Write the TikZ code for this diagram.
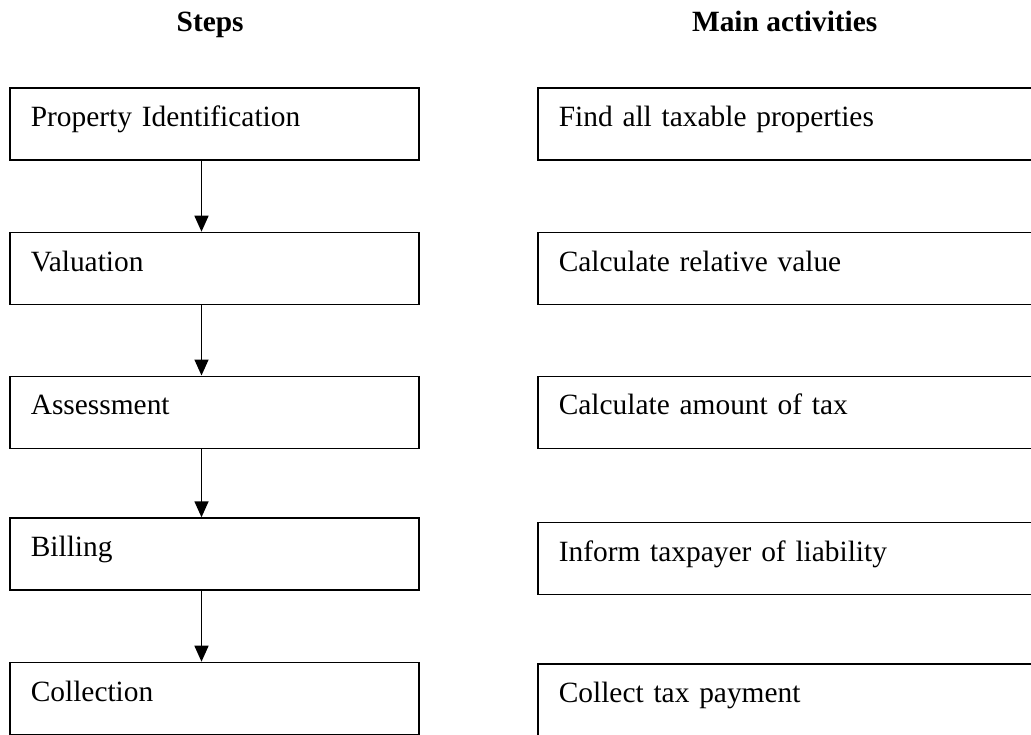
\documentclass[tikz,border=0pt]{standalone}
\usepackage{fontspec}
\setmainfont{Liberation Serif}
\usetikzlibrary{arrows.meta}

\begin{document}
\begin{tikzpicture}[x=1pt, y=-1pt,
  every node/.style={font=\fontsize{29.4}{35}\selectfont},
  stepbox/.style={draw, line width=1.6pt, anchor=north west, align=left,
    inner xsep=21pt, inner ysep=0pt, text height=38.5pt, text depth=33.5pt,
    text width=367pt},
  actbox/.style={stepbox, text width=455pt},
  heading/.style={anchor=base, inner sep=0pt, font=\fontsize{29.4}{35}\selectfont\bfseries},
  flow/.style={line width=1.5pt, -{Triangle[length=16pt, width=14pt]}}]

\useasboundingbox (0,0) rectangle (1031,734);

% column headings
\node[heading] (h1) at (210.2,31.7) {Steps};
\node[heading] (h2) at (784.7,31.7) {Main activities};

% steps
\node[stepbox] (s1) at (9,87.3)  {Property Identification};
\node[stepbox] (s2) at (9,231.7) {Valuation};
\node[stepbox] (s3) at (9,375.5) {Assessment};
\node[stepbox] (s4) at (9,517.3) {Billing};
\node[stepbox] (s5) at (9,661.7) {Collection};

% main activities
\node[actbox] (a1) at (537,87.3)  {Find all taxable properties};
\node[actbox] (a2) at (537,231.7) {Calculate relative value};
\node[actbox] (a3) at (537,375.5) {Calculate amount of tax};
\node[actbox] (a4) at (537,521.7) {Inform taxpayer of liability};
\node[actbox] (a5) at (537,663.3) {Collect tax payment};

% flow between steps
\coordinate (ax) at (201.5,0);
\draw[flow] (s1.south -| ax) -- (s2.north -| ax);
\draw[flow] (s2.south -| ax) -- (s3.north -| ax);
\draw[flow] (s3.south -| ax) -- (s4.north -| ax);
\draw[flow] (s4.south -| ax) -- (s5.north -| ax);
\end{tikzpicture}
\end{document}
